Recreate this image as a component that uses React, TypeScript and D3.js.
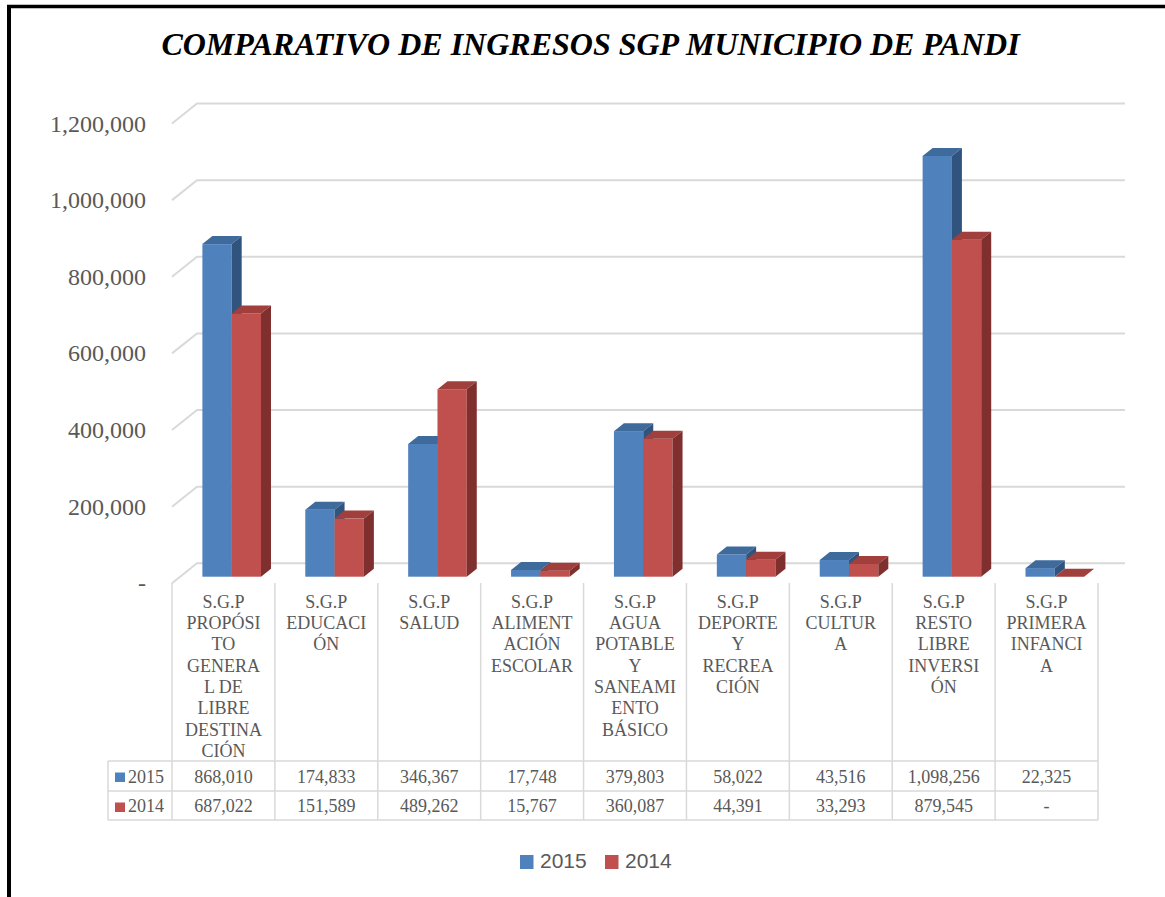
import React from "react";
import * as d3 from "d3";

const categories: string[][] = [
  ["S.G.P", "PROPÓSI", "TO", "GENERA", "L DE", "LIBRE", "DESTINA", "CIÓN"],
  ["S.G.P", "EDUCACI", "ÓN"],
  ["S.G.P", "SALUD"],
  ["S.G.P", "ALIMENT", "ACIÓN", "ESCOLAR"],
  ["S.G.P", "AGUA", "POTABLE", "Y", "SANEAMI", "ENTO", "BÁSICO"],
  ["S.G.P", "DEPORTE", "Y", "RECREA", "CIÓN"],
  ["S.G.P", "CULTUR", "A"],
  ["S.G.P", "RESTO", "LIBRE", "INVERSI", "ÓN"],
  ["S.G.P", "PRIMERA", "INFANCI", "A"],
];
const values2015: number[] = [868010, 174833, 346367, 17748, 379803, 58022, 43516, 1098256, 22325];
const values2014: number[] = [687022, 151589, 489262, 15767, 360087, 44391, 33293, 879545, 0];
const seriesNames = ["2015", "2014"];
const yTicks: number[] = [0, 200000, 400000, 600000, 800000, 1000000, 1200000];
const title = "COMPARATIVO DE INGRESOS SGP MUNICIPIO DE PANDI";

const colors = [
  { front: "#4F81BD", top: "#3E6A9C", side: "#30547E" },
  { front: "#C0504D", top: "#A03F3C", side: "#7F302E" },
];
const textGray = "#595959";
const gridGray = "#D9D9D9";

const fmt = (v: number) => (v === 0 ? "-" : d3.format(",")(v));

export default function App() {
  const W = 1165, H = 897;
  const x0 = 172, x1 = 1098;
  const depthDX = 25, depthDY = -20;
  const yBack = d3.scaleLinear().domain([0, 1200000]).range([563.3, 103.5]);
  const yFront = (v: number) => yBack(v) - depthDY;
  const barFrac = 0.33;
  const barShiftX = depthDX * barFrac;
  const yBar = (v: number) => yBack(v) - depthDY * (1 - barFrac);
  const xBand = d3.scaleBand<number>().domain(d3.range(categories.length)).range([x0, x1]).paddingInner(0).paddingOuter(0);
  const bw = xBand.bandwidth();
  const barW = 29.3;
  const bDX = 10, bDY = -8;

  const sans = "'Liberation Sans', Arial, sans-serif";
  const serif = "'Liberation Serif', 'Times New Roman', serif";

  const bars: JSX.Element[] = [];
  categories.forEach((_, i) => {
    const cx = (xBand(i) as number) + bw / 2 + barShiftX;
    [values2015[i], values2014[i]].forEach((v, s) => {
      const xl = cx - barW + s * barW;
      const xr = xl + barW;
      const yt = yBar(v);
      const yb = yBar(0);
      const c = colors[s];
      bars.push(
        <g key={`b${i}-${s}`}>
          <rect x={xl} y={yt} width={barW} height={yb - yt} fill={c.front} />
          <path d={`M${xl},${yt}L${xl + bDX},${yt + bDY}L${xr + bDX},${yt + bDY}L${xr},${yt}Z`} fill={c.top} />
          <path d={`M${xr},${yt}L${xr + bDX},${yt + bDY}L${xr + bDX},${yb + bDY}L${xr},${yb}Z`} fill={c.side} />
        </g>
      );
    });
  });

  const headerTop = 583;
  const row1 = 761, row2 = 791, row3 = 820;
  const legendLeft = 108;

  return (
    <svg width={W} height={H} style={{ position: "absolute", left: 0, top: 0, background: "#fff" }}>
      <rect x={0} y={0} width={W} height={H} fill="#fff" />
      <line x1={9} y1={7} x2={9} y2={H} stroke="#000" strokeWidth={4} />
      <line x1={7} y1={6.5} x2={W} y2={6.5} stroke="#000" strokeWidth={3.5} />

      <text x={590.5} y={55} textAnchor="middle" fontFamily={serif} fontWeight="bold" fontStyle="italic" fontSize={32} fill="#000">
        {title}
      </text>

      {yTicks.map((t) => (
        <g key={`g${t}`}>
          <polyline
            points={`${x0},${yFront(t)} ${x0 + depthDX},${yBack(t)} ${x1 + depthDX + 2},${yBack(t)}`}
            fill="none"
            stroke={gridGray}
            strokeWidth={2}
          />
          <text x={146} y={yFront(t)} textAnchor="end" dominantBaseline="central" fontFamily={serif} fontSize={24} fill={textGray}>
            {t === 0 ? "-" : d3.format(",")(t)}
          </text>
        </g>
      ))}

      {bars}

      <g stroke={gridGray} strokeWidth={1.5} fill="none">
        {d3.range(categories.length + 1).map((i) => {
          const x = i === categories.length ? x1 : (xBand(i) as number);
          return <line key={`v${i}`} x1={x} y1={headerTop} x2={x} y2={row3} />;
        })}
        <line x1={legendLeft} y1={row1} x2={legendLeft} y2={row3} />
        <line x1={legendLeft} y1={row1} x2={x1} y2={row1} />
        <line x1={legendLeft} y1={row2} x2={x1} y2={row2} />
        <line x1={legendLeft} y1={row3} x2={x1} y2={row3} />
      </g>
      {categories.map((lines, i) => {
        const cx = (xBand(i) as number) + bw / 2;
        return (
          <g key={`c${i}`}>
            {lines.map((ln, j) => (
              <text key={j} x={cx} y={607.7 + j * 21.3} textAnchor="middle" fontFamily={serif} fontSize={18} fill={textGray}>
                {ln}
              </text>
            ))}
            <text x={cx} y={782.7} textAnchor="middle" fontFamily={serif} fontSize={18} fill={textGray}>
              {fmt(values2015[i])}
            </text>
            <text x={cx} y={811.7} textAnchor="middle" fontFamily={serif} fontSize={18} fill={textGray}>
              {fmt(values2014[i])}
            </text>
          </g>
        );
      })}
      {seriesNames.map((n, s) => (
        <g key={`tl${s}`}>
          <rect x={115} y={(s === 0 ? row1 : row2) + 11.5} width={10} height={9.5} fill={colors[s].front} />
          <text x={128} y={s === 0 ? 782.7 : 811.7} fontFamily={serif} fontSize={18} fill={textGray}>
            {n}
          </text>
        </g>
      ))}

      {seriesNames.map((n, s) => {
        const lx = s === 0 ? 520 : 605;
        return (
          <g key={`lg${s}`}>
            <rect x={lx} y={855} width={13.5} height={14} fill={colors[s].front} />
            <text x={lx + 20} y={868} fontFamily={sans} fontSize={21} fill={textGray}>
              {n}
            </text>
          </g>
        );
      })}
    </svg>
  );
}
